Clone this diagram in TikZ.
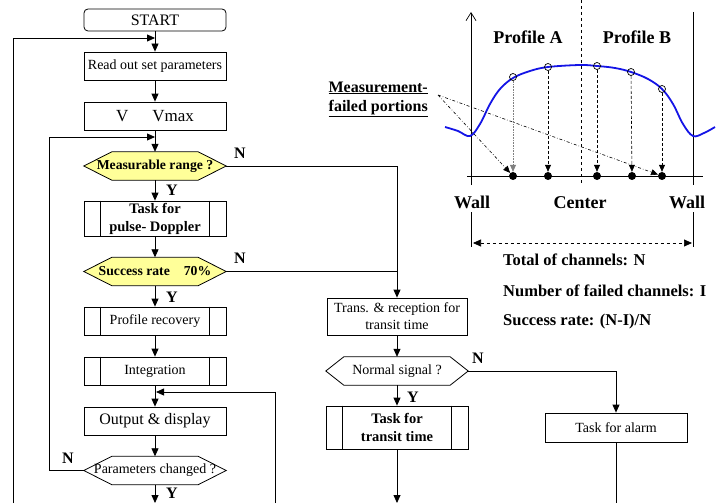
\documentclass[tikz,border=0pt]{standalone}
\usepackage{fontspec}
\setmainfont{Liberation Serif}
\usetikzlibrary{arrows.meta,backgrounds}
\definecolor{hexyellow}{RGB}{255,255,153}
\definecolor{curveblue}{RGB}{20,20,230}
\newcommand\hexshape[3]{%
  \begin{pgfonlayer}{background}
  \filldraw[fill=#3, line width=0.8pt] (#1.west) -- ([xshift=#2]#1.north west) -- ([xshift=-#2]#1.north east) -- (#1.east) -- ([xshift=-#2]#1.south east) -- ([xshift=#2]#1.south west) -- cycle;
  \end{pgfonlayer}}
\newcommand\procbars[1]{%
  \draw[line width=0.8pt] ([xshift=17pt]#1.north west) -- ([xshift=17pt]#1.south west);
  \draw[line width=0.8pt] ([xshift=-17pt]#1.north east) -- ([xshift=-17pt]#1.south east);}
\begin{document}
\begin{tikzpicture}[x=1pt,y=-1pt,
  box/.style={draw, line width=0.8pt, minimum width=142pt, minimum height=28pt, inner sep=1pt, align=center, font=\fontsize{14}{17}\selectfont},
  hexnode/.style={minimum width=142pt, minimum height=28pt, inner sep=0pt, align=center, font=\fontsize{14}{17}\selectfont},
  bfont/.style={font=\bfseries\fontsize{13.7}{17}\selectfont},
  arr/.style={line width=0.8pt, -{Triangle[length=8pt,width=7pt]}},
  ln/.style={line width=0.8pt},
  thinarr/.style={line width=0.6pt, -{Triangle[length=7pt,width=6pt]}},
  lbl/.style={font=\bfseries\fontsize{16}{16}\selectfont, inner sep=0pt},
  big/.style={font=\bfseries\fontsize{18}{18}\selectfont, inner sep=0pt},
  opencirc/.style={circle, draw, line width=0.7pt, minimum size=7pt, inner sep=0pt},
  dot/.style={circle, fill, minimum size=8pt, inner sep=0pt},
]
\useasboundingbox (0,0) rectangle (725,503);

% ---------- left column ----------
\node[box, rounded corners=4pt, minimum height=22pt, font=\fontsize{16}{18}\selectfont] (start) at (155,20) {START};
\node[box] (read) at (155,66) {Read out set parameters};
\node[box, font=\fontsize{17}{18}\selectfont] (vmax) at (155,116) {V\hspace{24pt}Vmax};
\node[hexnode, bfont] (meas) at (155,166) {Measurable range ?};
\hexshape{meas}{28pt}{hexyellow}
\node[box, minimum height=35pt, font=\bfseries\fontsize{14.5}{18}\selectfont] (pd) at (155,218.5) {Task for\\pulse- Doppler};
\procbars{pd}
\node[hexnode, bfont] (succ) at (155,271.5) {Success rate\hspace{14pt}70\%};
\hexshape{succ}{28pt}{hexyellow}
\node[box] (prof) at (155,321) {Profile recovery};
\procbars{prof}
\node[box] (integ) at (155,371) {Integration};
\procbars{integ}
\node[box, font=\fontsize{16}{18}\selectfont] (out) at (155,421) {Output \& display};
\node[hexnode] (param) at (155,470.5) {Parameters changed ?};
\hexshape{param}{28pt}{white}

\draw[arr] (start) -- (read);
\draw[arr] (read) -- (vmax);
\draw[arr] (vmax) -- (meas);
\draw[arr] (meas) -- (pd);
\draw[arr] (pd) -- (succ);
\draw[arr] (succ) -- (prof);
\draw[arr] (prof) -- (integ);
\draw[arr] (integ) -- (out);
\draw[arr] (out) -- (param);
\coordinate (b0) at (155,503);
\draw[arr] (param) -- (b0);

\coordinate (o1) at (13,503); \coordinate (o2) at (13,38); \coordinate (o3) at (155,38);
\draw[arr] (o1) -- (o2) -- (o3);
\coordinate (i1) at (49,470.5); \coordinate (i2) at (49,137); \coordinate (i3) at (155,137);
\draw[arr] (param.west) -- (i1) -- (i2) -- (i3);
\coordinate (r1) at (275,503); \coordinate (r2) at (275,392); \coordinate (r3) at (156,392);
\draw[arr] (r1) -- (r2) -- (r3);

\node[lbl] at (240,153) {N};
\node[lbl] at (240,258) {N};
\node[lbl] at (172,190) {Y};
\node[lbl] at (172,297) {Y};
\node[lbl] at (68,458) {N};
\node[lbl] at (172,493) {Y};

% ---------- middle column ----------
\node[box, minimum width=140pt, minimum height=37pt] (trans) at (397,316.5) {Trans. \& reception for\\transit time};
\node[hexnode] (norm) at (397,371) {Normal signal ?};
\hexshape{norm}{18pt}{white}
\node[box, minimum height=43pt, font=\bfseries\fontsize{14.5}{18}\selectfont] (ttask) at (397,427.5) {Task for\\transit time};
\procbars{ttask}
\node[box, minimum height=29pt] (alarm) at (616,427.5) {Task for alarm};

\coordinate (c1) at (397,166); \coordinate (c2) at (397,271.5);
\draw[ln] (meas.east) -- (c1) -- (c2);
\draw[ln] (succ.east) -- (c2);
\draw[arr] (c2) -- (trans);
\draw[arr] (trans) -- (norm);
\draw[arr] (norm) -- (ttask);
\draw[arr] (norm.east) -| (alarm.north);
\coordinate (b1) at (397,503); \coordinate (b2) at (616,503);
\draw[arr] (ttask) -- (b1);
\draw[ln] (alarm) -- (b2);
\node[lbl] at (478,358) {N};
\node[lbl] at (413,397) {Y};

% ---------- right chart ----------
\draw[line width=0.7pt, -{Straight Barb[length=8pt,width=10pt]}] (471,185) -- (471,12);
\draw[line width=0.7pt] (693,12) -- (693,185);
\draw[line width=0.7pt, dashed] (581,0) -- (581,185);
\draw[line width=0.7pt] (467,176) -- (703,176);
\draw[line width=0.7pt] (471,212) -- (471,247);
\draw[line width=0.7pt] (693,212) -- (693,247);
\draw[line width=0.7pt, dashed, {Triangle[length=8pt,width=7pt]}-{Triangle[length=8pt,width=7pt]}] (473,243) -- (692,243);

\draw[curveblue, line width=1.8pt] plot[smooth, tension=0.6] coordinates {(445,127) (458,131) (470,136) (480,124) (490,104) (500,89) (513,78) (530,71) (548,67) (580,65) (597,66) (615,68) (631,72) (648,79) (662,89) (673,104) (683,124) (693,136) (704,133) (715,127)};

\node[opencirc] (p1) at (513,77) {};
\node[opencirc] (p2) at (548,67) {};
\node[opencirc] (p3) at (597,66) {};
\node[opencirc] (p4) at (631,72) {};
\node[opencirc] (p5) at (662,89) {};
\node[dot] (d1) at (513,176) {};
\node[dot] (d2) at (548,176) {};
\node[dot] (d3) at (597,176) {};
\node[dot] (d4) at (632,176) {};
\node[dot] (d5) at (662,176) {};
\draw[thinarr, densely dotted, draw=gray] (p1) -- (d1);
\draw[thinarr, densely dashed] (p2) -- (d2);
\draw[thinarr, densely dashed] (p3) -- (d3);
\draw[thinarr, densely dashed] (p4) -- (d4);
\draw[thinarr, densely dashed] (p5) -- (d5);

\node[lbl, align=right, anchor=east, font=\bfseries\fontsize{16}{19}\selectfont] (mlabel) at (428,99) {\underline{Measurement-}\\\underline{failed portions}};
\coordinate (mf) at (438,95);
\draw[thinarr, dash dot] (mf) -- (d1);
\draw[thinarr, dash dot] (mf) -- (d5);

\node[big] at (528,37) {Profile A};
\node[big] at (637,37) {Profile B};
\node[big] at (472,202) {Wall};
\node[big] at (687,202) {Wall};
\node[big] at (580,203) {Center};

\node[lbl, anchor=west, font=\bfseries\fontsize{16.5}{16}\selectfont] at (503,260) {Total of channels: N};
\node[lbl, anchor=west, font=\bfseries\fontsize{16.5}{16}\selectfont] at (503,291) {Number of failed channels: I};
\node[lbl, anchor=west, font=\bfseries\fontsize{16.5}{16}\selectfont] at (503,322) {Success rate: (N-I)/N};
\end{tikzpicture}
\end{document}
